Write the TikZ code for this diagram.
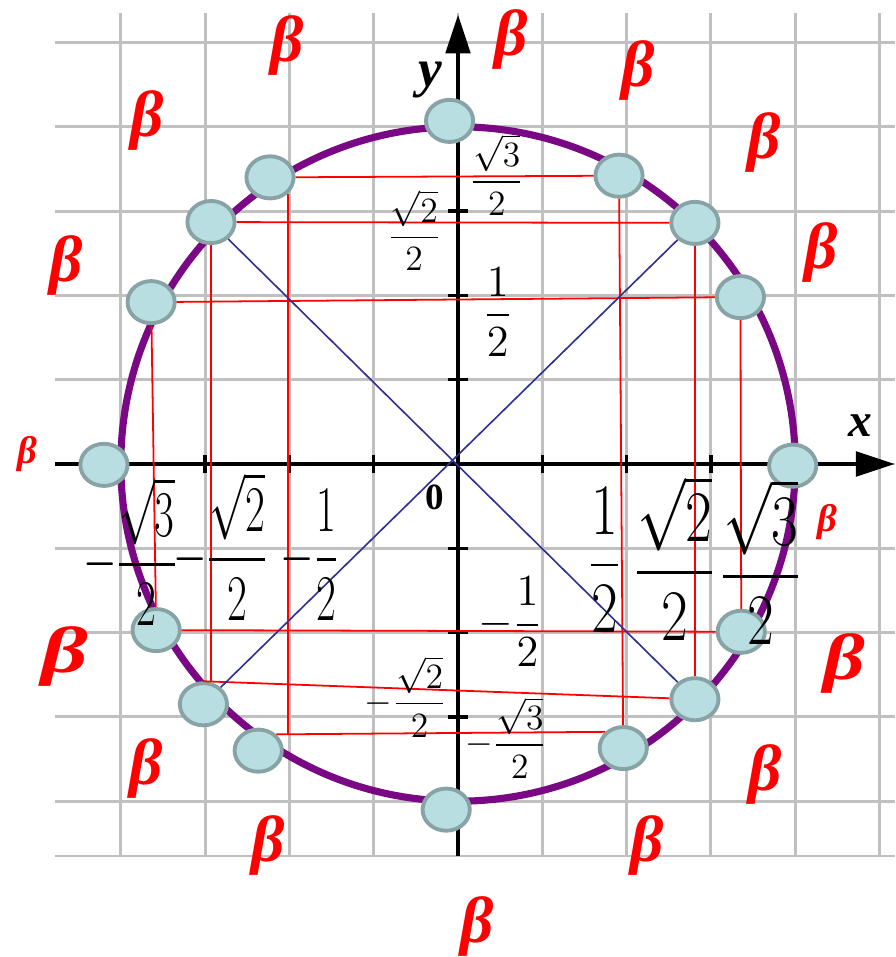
\RequirePackage{fix-cm}
\documentclass[tikz,border=0pt]{standalone}
\usepackage{amsmath}
\usepackage{fontspec}
\setmainfont{Liberation Serif}
\usetikzlibrary{shapes.geometric,arrows.meta}

\definecolor{gridgray}{RGB}{192,192,192}
\definecolor{ringpurple}{RGB}{122,8,132}
\definecolor{dotfill}{RGB}{184,222,225}
\definecolor{dotedge}{RGB}{136,163,166}
\definecolor{diagblue}{RGB}{46,49,146}

\begin{document}
\begin{tikzpicture}[
  gridline/.style={gridgray, line width=1pt},
  axisline/.style={line width=1.35pt, -{Triangle[length=0.46cm,width=0.29cm]}},
  dot/.style={ellipse, draw=dotedge, fill=dotfill, line width=1.3pt,
    minimum width=0.56cm, minimum height=0.5cm, inner sep=0pt},
  redline/.style={red, line width=0.6pt},
  blueline/.style={diagblue, line width=0.55pt},
  betalbl/.style={text=red, inner sep=0pt, font=\fontsize{22}{24}\selectfont\bfseries\itshape},
  smallbeta/.style={text=red, inner sep=0pt, font=\fontsize{13}{15}\selectfont\bfseries\itshape},
  smallfrac/.style={inner sep=0pt, font=\fontsize{12}{14}\selectfont},
  midfrac/.style={inner sep=0pt, font=\fontsize{15}{18}\selectfont},
  bigfrac/.style={inner sep=0pt, font=\fontsize{22}{26}\selectfont},
  hugefrac/.style={inner sep=0pt, font=\fontsize{24.5}{28}\selectfont}
]
\useasboundingbox (-5.433,-5.848) rectangle (5.184,5.504);

% ---------- grid ----------
\draw[gridline] (-4.78,-4.65) grid (5.18,5.35);
\draw[gridline] (-4.78,-4.65) -- (5.18,-4.65);

% ---------- circle ----------
\draw[ringpurple, line width=2.4pt] (0,0) circle (4);

% ---------- axes ----------
\draw[axisline] (-4.78,0) -- (5.18,0);
\draw[axisline] (0,-4.65) -- (0,5.33);
\foreach \k in {-4,-3,-2,-1,1,2,3,4} {
  \draw[line width=1.2pt] (\k,-0.11) -- (\k,0.11);
  \draw[line width=1.2pt] (-0.12,\k) -- (0.12,\k);
}
\node[font=\fontsize{16}{18}\selectfont\bfseries\itshape] (xlbl) at (4.77,0.46) {x};
\node[font=\fontsize{18}{20}\selectfont\bfseries\itshape] (ylbl) at (-0.33,4.56) {y};
\node[font=\fontsize{12.5}{14}\selectfont\bfseries] (olbl) at (-0.28,-0.39) {0};

% ---------- points on the circle ----------
\node[dot] (p0) at (3.97,-0.02) {};
\node[dot] (p30) at (3.35,1.98) {};
\node[dot] (p45) at (2.81,2.86) {};
\node[dot] (p60) at (1.91,3.42) {};
\node[dot] (p90) at (-0.1,4.07) {};
\node[dot] (p120) at (-2.23,3.40) {};
\node[dot] (p135) at (-2.93,2.87) {};
\node[dot] (p150) at (-3.64,1.92) {};
\node[dot] (p180) at (-4.20,-0.01) {};
\node[dot] (p210) at (-3.58,-1.97) {};
\node[dot] (p225) at (-3.02,-2.85) {};
\node[dot] (p240) at (-2.37,-3.40) {};
\node[dot] (p270) at (-0.14,-4.10) {};
\node[dot] (p300) at (1.96,-3.37) {};
\node[dot] (p315) at (2.81,-2.79) {};
\node[dot] (p330) at (3.36,-1.99) {};

% ---------- red projections ----------
\draw[redline] (p120) -- (p60);
\draw[redline] (p135) -- (p45);
\draw[redline] (p150) -- (p30);
\draw[redline] (p210) -- (p330);
\draw[redline] (p225.north) -- (p315);
\draw[redline] (p240.north east) -- (p300.north west);
\draw[redline] (p150) -- (p210);
\draw[redline] (p135) -- (p135 |- p225.north);
\draw[redline] (p120.south east) -- (p120.south east |- p240.north east);
\draw[redline] (p60) -- (p300);
\draw[redline] (p45) -- (p315);
\draw[redline] (p30) -- (p330);

% ---------- diagonals ----------
\draw[blueline] (p135) -- (p315);
\draw[blueline] (p45) -- (p225);

% ---------- values on the y axis ----------
\node[smallfrac] (lblA) at (0.46,3.43) {$\dfrac{\sqrt{3}}{2}$};
\node[smallfrac] (lblB) at (-0.52,2.77) {$\dfrac{\sqrt{2}}{2}$};
\node[midfrac] (lblC) at (0.47,1.80) {$\dfrac{1}{2}$};
\node[midfrac] (lblD) at (0.62,-1.87) {$-\dfrac{1}{2}$};
\node[smallfrac] (lblE) at (-0.62,-2.76) {$-\dfrac{\sqrt{2}}{2}$};
\node[smallfrac] (lblF) at (0.57,-3.25) {$-\dfrac{\sqrt{3}}{2}$};

% ---------- values on the x axis ----------
\node[bigfrac] (lblG) at (-3.89,-1.04) {\scalebox{0.66}[1]{$-\dfrac{\sqrt{3}}{2}$}};
\node[bigfrac] (lblH) at (-2.82,-0.98) {\scalebox{0.66}[1]{$-\dfrac{\sqrt{2}}{2}$}};
\node[bigfrac] (lblI) at (-1.76,-1.08) {\scalebox{0.66}[1]{$-\dfrac{1}{2}$}};
\node[hugefrac] (lblJ) at (1.74,-1.14) {\scalebox{0.8}[1]{$\dfrac{1}{2}$}};
\node[hugefrac] (lblK) at (2.57,-1.12) {\scalebox{0.8}[1]{$\dfrac{\sqrt{2}}{2}$}};
\node[hugefrac] (lblL) at (3.59,-1.16) {\scalebox{0.8}[1]{$\dfrac{\sqrt{3}}{2}$}};

% ---------- angle names ----------
\node[betalbl] (b1) at (-2.03,4.97) {β};
\node[betalbl] (b2) at (-3.69,4.07) {β};
\node[betalbl] (b3) at (-4.65,2.35) {β};
\node[smallbeta] (b4) at (-5.11,0.12) {β};
\node[betalbl] (b5) at (0.63,5.03) {β};
\node[betalbl] (b6) at (2.14,4.67) {β};
\node[betalbl] (b7) at (3.63,3.81) {β};
\node[betalbl] (b8) at (4.31,2.51) {β};
\node[smallbeta] (b9) at (4.38,-0.69) {β};
\node[betalbl] (b10) at (4.58,-2.37) {\scalebox{1.25}[1]{β}};
\node[betalbl] (b11) at (3.64,-3.68) {β};
\node[betalbl] (b12) at (2.24,-4.52) {β};
\node[betalbl] (b13) at (0.23,-5.49) {β};
\node[betalbl] (b14) at (-2.25,-4.52) {β};
\node[betalbl] (b15) at (-3.70,-3.61) {β};
\node[betalbl] (b16) at (-4.66,-2.28) {\scalebox{1.4}[1]{β}};

\end{tikzpicture}
\end{document}
